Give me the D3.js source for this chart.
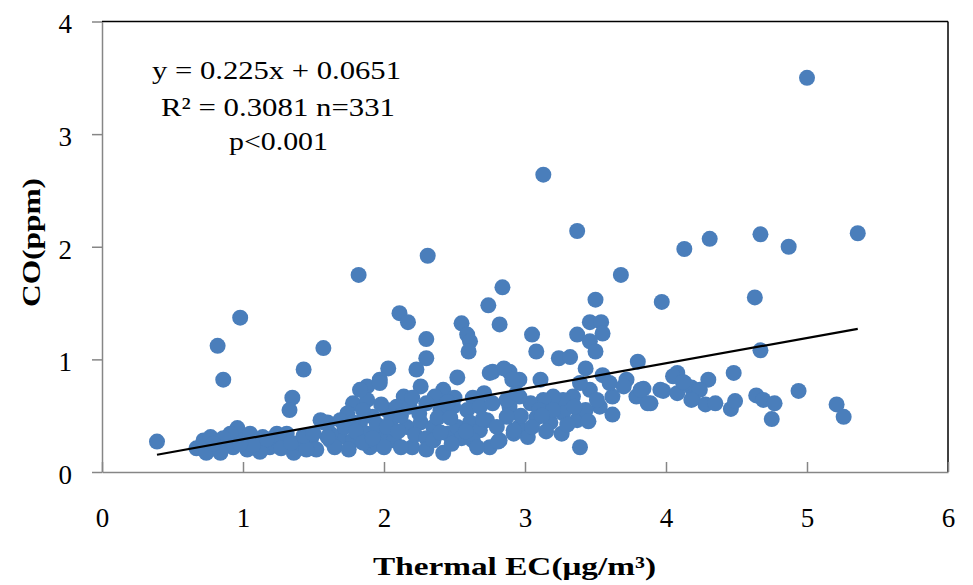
<!DOCTYPE html>
<html>
<head>
<meta charset="utf-8">
<script src="https://cdn.jsdelivr.net/npm/d3@7"></script>
<style>
  body { margin: 0; background: #fff; }
  svg { display: block; }
  .axis path, .axis line { stroke: #868686; stroke-width: 1.5; }
  .axis text { font-family: "Liberation Serif", "Times New Roman", serif; font-size: 27px; fill: #000; }
  .title { font-family: "Liberation Serif", "Times New Roman", serif; font-weight: bold; font-size: 26px; fill: #000; }
  .note { font-family: "Liberation Serif", "Times New Roman", serif; font-size: 26px; fill: #000; }
</style>
</head>
<body>
<div id="chart"></div>
<script>
// thermal EC (x) vs CO (y)
var points = [
  [0.39,0.27],
  [0.82,1.12],[0.86,0.82],[0.98,1.37],
  [1.43,0.91],[1.57,1.10],[1.35,0.66],[1.33,0.55],
  [1.82,1.75],[2.31,1.92],[3.13,2.64],[5.00,3.50],[3.37,2.14],
  [4.13,1.98],[4.31,2.07],[4.67,2.11],[4.87,2.00],[5.36,2.12],
  [3.68,1.75],[2.84,1.64],[2.74,1.48],[3.50,1.53],[3.97,1.51],[4.63,1.55],
  [2.11,1.41],[2.17,1.33],[4.67,1.08],
  // right group
  [4.08,0.88],[4.30,0.82],[4.48,0.88],[3.98,0.72],[4.08,0.70],[4.18,0.75],[4.19,0.65],
  [4.28,0.60],[4.35,0.61],[4.46,0.56],[4.49,0.63],[4.64,0.68],[4.69,0.64],[4.77,0.61],
  [4.75,0.47],[4.94,0.72],[5.21,0.60],[5.26,0.49],[4.13,0.79],[4.24,0.73],
  // 3 - 4
  [3.46,1.33],[3.54,1.33],[3.37,1.22],[3.55,1.23],[3.05,1.22],[3.08,1.07],[3.46,1.16],
  [3.50,1.07],[3.24,1.01],[3.32,1.02],[3.43,0.92],[3.80,0.98],[4.05,0.85],[3.11,0.82],
  [2.96,0.82],[2.89,0.89],[3.55,0.86],[3.72,0.82],[3.84,0.74],[3.96,0.73],[4.12,0.80],
  [4.18,0.64],[3.89,0.61],[3.79,0.67],[3.70,0.76],[3.62,0.67],[3.62,0.51],[3.53,0.58],
  [3.46,0.73],[3.39,0.79],[3.34,0.67],[3.27,0.64],[3.20,0.67],[3.13,0.64],[3.04,0.61],
  [2.96,0.67],[2.89,0.58],[3.18,0.44],[3.27,0.52],[3.37,0.46],[3.26,0.34],[3.39,0.22],
  [2.96,0.40],[3.02,0.31],[2.92,0.34],[3.43,0.55],[3.51,0.64],[3.60,0.79],[3.87,0.61],
  [3.82,0.73],[3.08,0.48],[3.10,0.55],[3.20,0.55],[2.97,0.50],
  [3.05,0.40],[3.15,0.36],[3.12,0.50],[3.30,0.42],[3.35,0.58],[3.45,0.45],
  // 1.5 - 3
  [2.55,1.32],[2.59,1.22],[2.61,1.16],[2.60,1.07],[2.82,1.31],[2.30,1.18],[2.30,1.01],
  [2.23,0.91],[2.03,0.92],[1.97,0.82],[1.88,0.76],[2.52,0.84],[2.77,0.89],[2.85,0.92],
  [2.91,0.82],[2.26,0.76],[2.14,0.67],[2.42,0.73],[2.36,0.67],[2.63,0.66],[1.78,0.61],
  [1.88,0.64],[1.74,0.52],[1.60,0.44],[1.55,0.46],[1.69,0.31],[1.62,0.28],[1.83,0.44],
  [1.92,0.49],[2.02,0.55],[2.09,0.58],[2.18,0.58],[2.30,0.61],[2.40,0.55],[2.49,0.58],
  [2.59,0.55],[2.68,0.58],[2.77,0.61],[2.87,0.64],[2.94,0.70],[1.78,0.44],[1.88,0.34],
  [1.90,0.22],[1.78,0.28],[1.99,0.34],[2.07,0.28],[2.20,0.22],[2.16,0.40],[2.26,0.44],
  [2.35,0.40],[2.42,0.17],[2.45,0.34],[2.52,0.40],[2.61,0.44],[2.68,0.37],[2.75,0.22],
  [2.82,0.28],[2.92,0.37],[2.73,0.46],[2.87,0.49],[1.62,0.34],[1.69,0.46],[1.97,0.79],
  [1.83,0.73],[2.75,0.88],[2.81,0.27],
  [1.72,0.40],[1.80,0.36],[1.95,0.42],[2.05,0.46],[2.12,0.50],[2.22,0.33],[2.30,0.30],
  [2.38,0.48],[2.47,0.48],[2.55,0.30],[2.63,0.28],[2.70,0.47],[2.80,0.40],[1.95,0.25],
  [2.12,0.22],[2.30,0.20],[2.48,0.25],[1.85,0.55],[1.98,0.60],[2.20,0.66],[2.50,0.66],
  [2.71,0.70],[2.45,0.62],
  [1.65,0.22],[1.75,0.20],[1.85,0.26],[2.00,0.22],[2.02,0.40],[2.10,0.36],[1.92,0.30],
  [2.25,0.52],[2.35,0.28],[2.40,0.35],[2.58,0.36],[2.66,0.22],
  // below 1.6
  [0.96,0.39],[0.67,0.21],[0.72,0.28],[0.77,0.31],[0.82,0.22],[0.89,0.27],[0.93,0.22],
  [1.00,0.28],[1.05,0.34],[1.10,0.26],[1.14,0.31],[1.19,0.22],[1.24,0.34],[1.29,0.28],
  [1.31,0.34],[1.36,0.17],[1.40,0.26],[1.48,0.28],[1.52,0.20],[1.60,0.31],[0.74,0.17],
  [0.84,0.17],[1.03,0.20],[1.12,0.18],[0.91,0.34],[1.21,0.26],[1.45,0.20],[1.57,0.44],
  [1.07,0.24],[1.17,0.29],[1.27,0.21],[1.34,0.26],[1.43,0.32],[1.50,0.34],[0.98,0.25],
  [0.86,0.30],[0.79,0.25]
];
var xTicks = [0, 1, 2, 3, 4, 5, 6];
var yTicks = [0, 1, 2, 3, 4];
var slope = 0.225, intercept = 0.0651;
var noteLines = ["y = 0.225x + 0.0651", "R\u00b2 = 0.3081 n=331", "p<0.001"];
var xTitle = "Thermal  EC(\u03bcg/m\u00b3)";
var yTitle = "CO(ppm)";

var width = 973, height = 585;
var svg = d3.select("#chart").append("svg")
    .attr("width", width)
    .attr("height", height);

var x = d3.scaleLinear().domain([0, 6]).range([102, 948]);
var y = d3.scaleLinear().domain([0, 4]).range([472, 21.5]);

// top and right frame lines
svg.append("line").attr("x1", x(0)).attr("x2", x(6)).attr("y1", y(4)).attr("y2", y(4))
    .attr("stroke", "#000").attr("stroke-width", 1.5);
svg.append("line").attr("x1", x(6)).attr("x2", x(6)).attr("y1", y(4)).attr("y2", y(0))
    .attr("stroke", "#000").attr("stroke-width", 1.5);

// y axis, ticks outward
var yAxis = svg.append("g")
    .attr("class", "axis")
    .attr("transform", `translate(${x(0)},0)`)
    .call(d3.axisLeft(y).tickValues(yTicks).tickSize(10).tickSizeOuter(0).tickPadding(20).tickFormat(d3.format("d")));
yAxis.selectAll("text").attr("dy", "0.42em");

// x axis, ticks pointing up into the plot
var xAxis = svg.append("g")
    .attr("class", "axis")
    .attr("transform", `translate(0,${y(0)})`)
    .call(d3.axisBottom(x).tickValues(xTicks).tickSize(-10).tickSizeOuter(0).tickPadding(36).tickFormat(d3.format("d")));

// points
svg.append("g").selectAll("circle")
    .data(points)
    .enter().append("circle")
    .attr("cx", function(d) { return x(d[0]); })
    .attr("cy", function(d) { return y(d[1]); })
    .attr("r", 8)
    .attr("fill", "#4a7ebb");

// linear trend line over the data range
var xs = d3.extent(points, function(d) { return d[0]; });
svg.append("line")
    .attr("x1", x(xs[0])).attr("y1", y(slope * xs[0] + intercept))
    .attr("x2", x(xs[1])).attr("y2", y(slope * xs[1] + intercept))
    .attr("stroke", "#000").attr("stroke-width", 2.2);

// equation text
var notePos = [[152, 79, 249], [161, 116, 234], [229, 150, 99]];
noteLines.forEach(function(t, i) {
    svg.append("text").attr("class", "note")
        .attr("x", notePos[i][0]).attr("y", notePos[i][1])
        .attr("textLength", notePos[i][2]).attr("lengthAdjust", "spacingAndGlyphs")
        .text(t);
});

// axis titles
svg.append("text").attr("class", "title")
    .attr("x", 373).attr("y", 575)
    .attr("textLength", 283).attr("lengthAdjust", "spacingAndGlyphs")
    .text(xTitle);
svg.append("text").attr("class", "title")
    .attr("transform", "translate(40,307) rotate(-90)")
    .attr("textLength", 129).attr("lengthAdjust", "spacingAndGlyphs")
    .text(yTitle);
</script>
</body>
</html>
